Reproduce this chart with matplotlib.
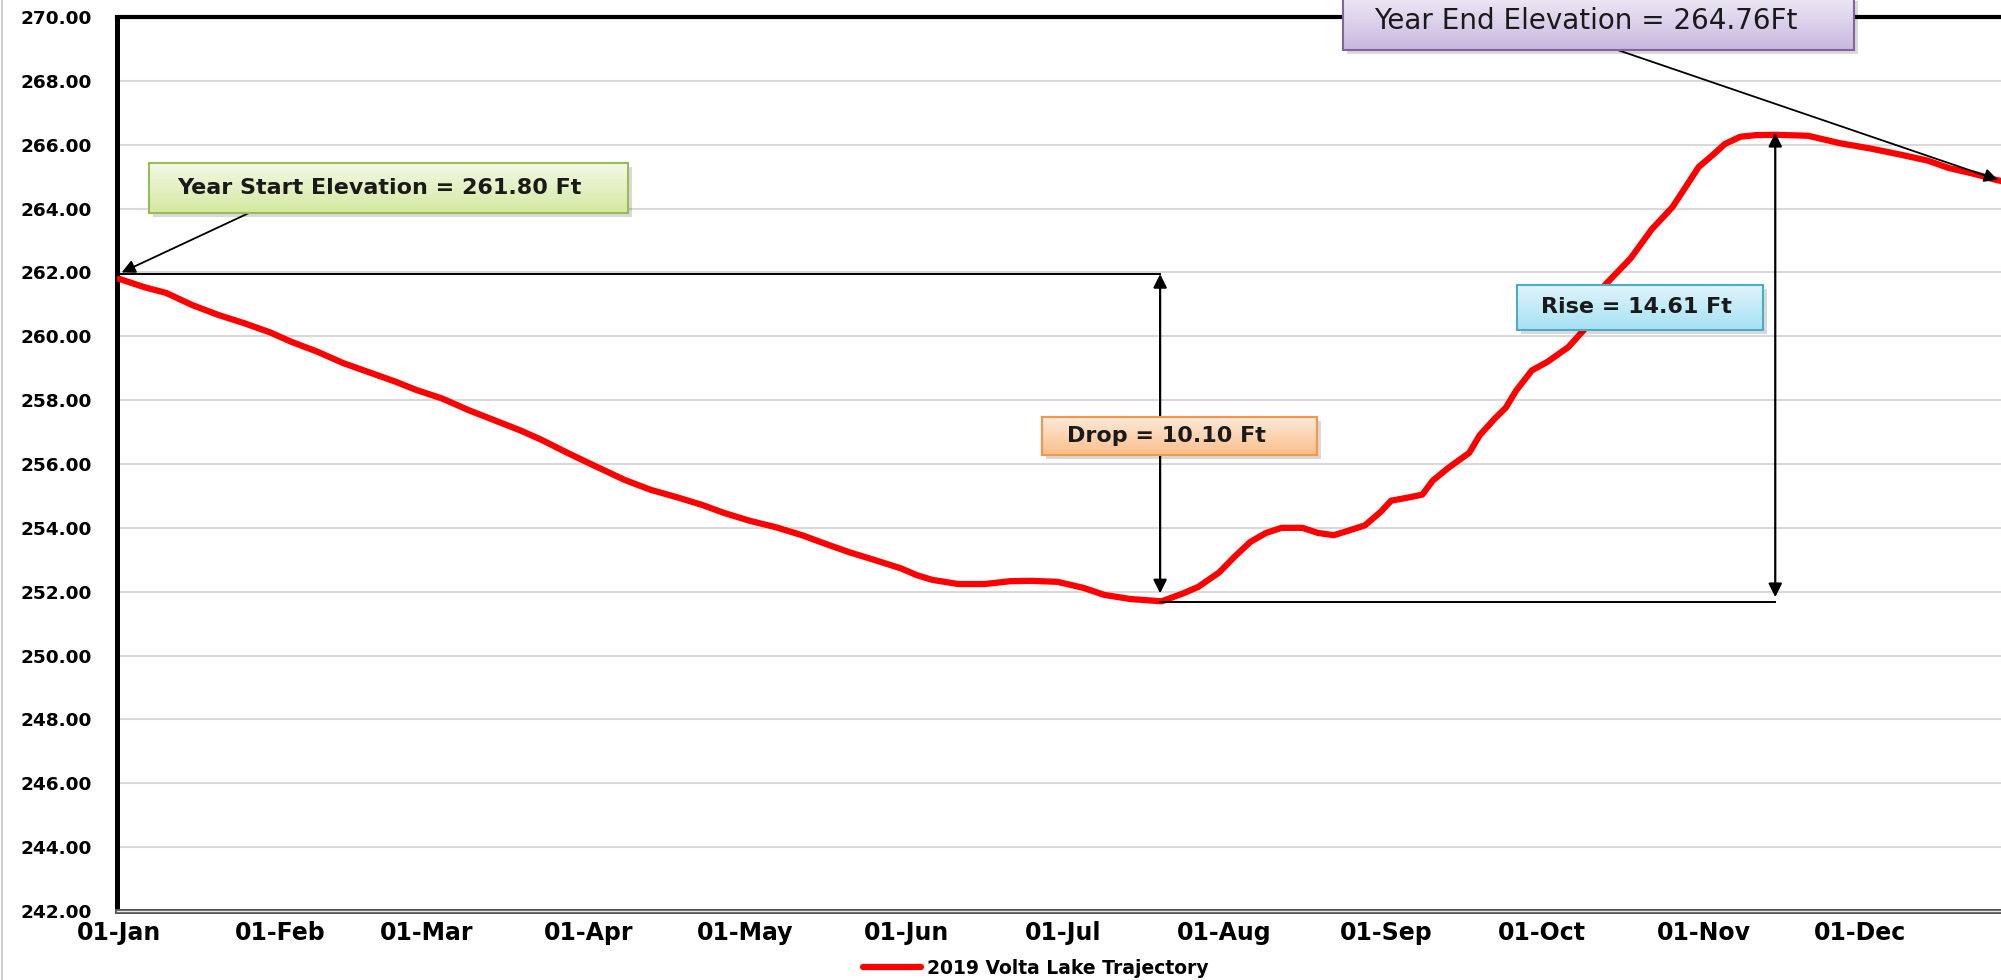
import matplotlib
matplotlib.use('Agg')
import matplotlib.pyplot as plt
import matplotlib.dates as mdates
import matplotlib.patheffects as pe
from matplotlib.patches import Rectangle
from matplotlib.lines import Line2D
from matplotlib.colors import LinearSegmentedColormap
import numpy as np
import pandas as pd

W, H = 2001, 980

# 2019 Volta Lake elevation (ft), by day of year
day_of_year = [0, 5, 9, 14, 19, 24, 29, 33, 38, 43, 48, 53, 57, 62, 67, 72, 77, 81, 86, 91,
               97, 102, 107, 112, 116, 121, 126, 131, 135, 140, 145, 150, 153, 156, 161, 166,
               171, 175, 180, 185, 189, 194, 200, 204, 207, 211, 214, 217, 220, 223, 227, 230,
               233, 236, 239, 242, 244, 247, 250, 252, 255, 259, 261, 264, 266, 268, 271, 274,
               278, 281, 283, 285, 290, 294, 298, 303, 306, 308, 311, 314, 318, 324, 330, 336,
               342, 347, 351, 356, 360, 364]
elevation_ft = [261.80, 261.53, 261.36, 260.98, 260.67, 260.41, 260.12, 259.83, 259.52, 259.16,
                258.87, 258.58, 258.32, 258.05, 257.69, 257.37, 257.05, 256.76, 256.35, 255.96,
                255.50, 255.19, 254.96, 254.71, 254.47, 254.22, 254.02, 253.77, 253.53, 253.24,
                252.99, 252.73, 252.52, 252.37, 252.24, 252.24, 252.33, 252.34, 252.31, 252.12,
                251.90, 251.77, 251.70, 251.94, 252.15, 252.60, 253.10, 253.56, 253.84, 254.00,
                254.00, 253.84, 253.77, 253.92, 254.08, 254.50, 254.85, 254.94, 255.04, 255.48,
                255.88, 256.35, 256.90, 257.44, 257.76, 258.30, 258.93, 259.20, 259.66, 260.20,
                260.85, 261.60, 262.45, 263.35, 264.05, 265.30, 265.72, 266.02, 266.25, 266.30,
                266.31, 266.28, 266.05, 265.88, 265.68, 265.50, 265.27, 265.08, 264.90, 264.76]

series_label = '2019 Volta Lake Trajectory'
y_ticks = list(range(242, 271, 2))

start_label = 'Year Start Elevation = 261.80 Ft'
end_label = 'Year End Elevation = 264.76Ft'
drop_label = 'Drop = 10.10 Ft'
rise_label = 'Rise = 14.61 Ft'

base = pd.Timestamp('2019-01-01')
dates = base + pd.to_timedelta(day_of_year, unit='D')


def dx(d):
    return mdates.date2num(base + pd.Timedelta(days=d))


fig = plt.figure(figsize=(W / 100, H / 100), dpi=100)
fig.patch.set_facecolor('white')

px_per_day = 5.213
ax = fig.add_axes([117 / W, 1 - 911 / H, 365 * px_per_day / W, (911 - 17) / H])
ax.plot(dates, elevation_ft, color='#ff0000', lw=4.5, solid_joinstyle='round',
        solid_capstyle='round', zorder=3, label=series_label)

ax.set_xlim(dx(-0.4), dx(364.6))
ax.set_ylim(242, 270)
ax.set_yticks(y_ticks)
ax.yaxis.set_major_formatter(matplotlib.ticker.FormatStrFormatter('%.2f'))
ax.xaxis.set_major_locator(mdates.MonthLocator(bymonthday=1))
ax.xaxis.set_major_formatter(mdates.DateFormatter('%d-%b'))
ax.tick_params(axis='y', length=0, pad=18, labelsize=13.3)
ax.tick_params(axis='x', length=0, pad=7, labelsize=17)
for t in ax.get_xticklabels() + ax.get_yticklabels():
    t.set_fontweight('bold')

ax.yaxis.grid(True, color='#d9d9d9', lw=1.5)
ax.set_axisbelow(True)
ax.spines['right'].set_visible(False)
ax.spines['left'].set_color('black')
ax.spines['left'].set_linewidth(3.6)
ax.spines['top'].set_color('black')
ax.spines['top'].set_linewidth(3.0)
ax.spines['bottom'].set_color('#e6e6e6')
ax.spines['bottom'].set_linewidth(1.0)
ax.spines['bottom'].set_path_effects([pe.Stroke(linewidth=3.6, foreground='#555555'), pe.Normal()])

# drop / rise guide lines and arrows
ax.plot([dx(0), dx(199.7)], [261.95, 261.95], color='black', lw=1.4, zorder=4)
ax.plot([dx(199.7), dx(317.7)], [251.68, 251.68], color='black', lw=1.4, zorder=4)
dbl = dict(arrowstyle='<|-|>', color='black', lw=1.6, mutation_scale=20, shrinkA=0, shrinkB=0)
ax.annotate('', xy=(dx(199.7), 251.95), xytext=(dx(199.7), 261.95), arrowprops=dbl, zorder=4)
ax.annotate('', xy=(dx(317.7), 251.83), xytext=(dx(317.7), 266.37), arrowprops=dbl, zorder=4)

one = dict(arrowstyle='-|>', color='black', lw=1.3, mutation_scale=20, shrinkA=0, shrinkB=0)
ax.annotate('', xy=(dx(0.5), 262.0), xytext=(dx(24.9), 263.86), arrowprops=one, zorder=4)
ax.annotate('', xy=(dx(360.4), 264.9), xytext=(dx(287.4), 268.97), arrowprops=one, zorder=4)


def label_box(x0, y0, x1, y1, text, top, bottom, edge, tcx, tcy, **kw):
    # box given in image pixels, y measured from the top
    shadow = Rectangle(((x0 + 4) / W, 1 - (y1 + 4) / H), (x1 - x0) / W, (y1 - y0) / H,
                       transform=fig.transFigure, facecolor='black', alpha=0.15, lw=0, zorder=4)
    fig.add_artist(shadow)
    bx = fig.add_axes([x0 / W, 1 - y1 / H, (x1 - x0) / W, (y1 - y0) / H], zorder=5)
    cmap = LinearSegmentedColormap.from_list('grad', [top, bottom])
    bx.imshow(np.linspace(0, 1, 64)[:, None], cmap=cmap, aspect='auto',
              extent=[0, 1, 0, 1], origin='upper')
    bx.set_xticks([])
    bx.set_yticks([])
    for s in bx.spines.values():
        s.set_color(edge)
        s.set_linewidth(1.5)
    bx.text((tcx - x0) / (x1 - x0), 1 - (tcy - y0) / (y1 - y0), text, transform=bx.transAxes,
            ha='center', va='center', color='#1a1a1a', **kw)


label_box(149, 163, 628, 213, start_label, '#f3f9e6', '#d3e9a0', '#9bbb59', 379, 188,
          fontsize=16, fontweight='bold')
label_box(1042, 417, 1317, 455, drop_label, '#fdeadb', '#fbbf8b', '#f79646', 1166, 436,
          fontsize=16, fontweight='bold')
label_box(1517, 285, 1763, 330, rise_label, '#dff4fb', '#a6e1f4', '#4bacc6', 1636, 307,
          fontsize=16, fontweight='bold')
label_box(1343, -3, 1854, 50, end_label, '#eee8f5', '#c8b8df', '#8064a2', 1586, 21,
          fontsize=20)

leg = ax.legend(loc='center', bbox_to_anchor=(1036 / W, 1 - 968 / H), bbox_transform=fig.transFigure,
                frameon=False, handlelength=3.1, handletextpad=0.3,
                prop=dict(weight='bold', size=13.5))

fig.add_artist(Line2D([1.5 / W, 1.5 / W], [0, 1], color='#d0d0d0', lw=1.5))

fig.savefig('out.png', dpi=100)
